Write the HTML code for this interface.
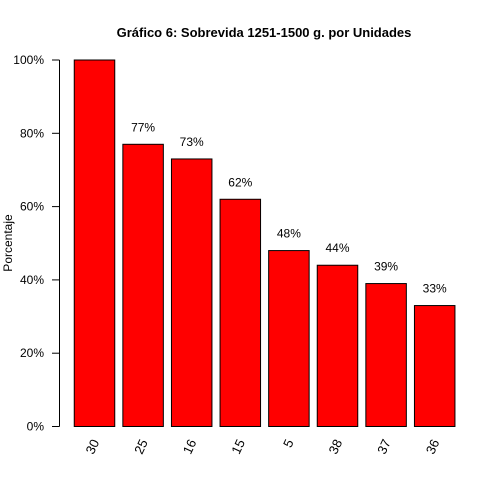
<!DOCTYPE html>
<html><head><meta charset="utf-8"><style>
html,body{margin:0;padding:0;background:#fff;width:500px;height:500px;overflow:hidden}
svg{display:block}
svg text{font-family:"Liberation Sans",Arial,sans-serif;fill:#000}
</style></head><body>
<svg id="chart" width="500" height="500" xmlns="http://www.w3.org/2000/svg">
<rect width="500" height="500" fill="#fff"/>
<text x="264" y="37" text-anchor="middle" font-size="13" font-weight="bold">Gráfico 6: Sobrevida 1251-1500 g. por Unidades</text>
<text transform="translate(12,243) rotate(-90)" text-anchor="middle" font-size="12">Porcentaje</text>
<g id="axis"></g><g id="bars"></g>
</svg>
<script>
const categories=["30","25","16","15","5","38","37","36"];
const values=[100,77,73,62,48,44,39,33];
const yTicks=[0,20,40,60,80,100];
const NS="http://www.w3.org/2000/svg";
const y0=426.5,y100=60;
function yScale(v){return y0-(y0-y100)*v/100;}
function xCenter(i){return 94.5+i*48.6;}
const bw=40.5;
const ax=document.getElementById('axis'),bg=document.getElementById('bars');
function mk(tag,attrs,parent){const e=document.createElementNS(NS,tag);for(const k in attrs)e.setAttribute(k,attrs[k]);parent.appendChild(e);return e;}
const axl=mk('line',{x1:59.5,x2:59.5,y1:yScale(0),y2:yScale(100),stroke:'#000'},ax);


yTicks.forEach(t=>{
  const y=yScale(t);
  const tk=mk('line',{x1:52,x2:59.5,y1:y,y2:y,stroke:'#000'},ax);
  
  
  const tl=mk('text',{x:44,y:y+4,'text-anchor':'end','font-size':12},ax);
  tl.textContent=t+'%';
  
  
});
categories.forEach((c,i)=>{
  const cx=xCenter(i),y=yScale(values[i]);
  const r=mk('rect',{x:cx-bw/2,y:y,width:bw,height:yScale(0)-y,fill:'#ff0000',stroke:'#000','stroke-width':1},bg);
  
  
  if(i>0){
    const v=mk('text',{x:cx,y:y-13,'text-anchor':'middle','font-size':12},bg);
    v.textContent=values[i]+'%';
    
    
  }
  const l=mk('text',{transform:`translate(${cx+5},${442}) rotate(-65)`,'text-anchor':'end','font-size':13},bg);
  l.textContent=c;
  
  
});
</script>
</body></html>
